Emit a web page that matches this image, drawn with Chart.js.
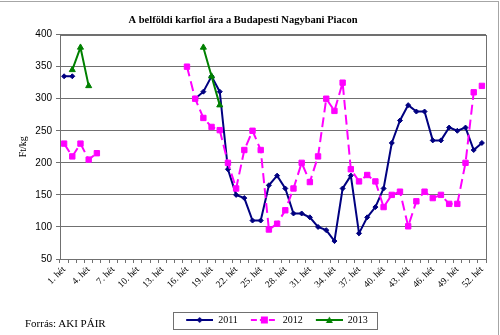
<!DOCTYPE html>
<html>
<head>
<meta charset="utf-8">
<script src="https://cdn.jsdelivr.net/npm/chart.js@4.4.0/dist/chart.umd.min.js"></script>
<style>
  html, body { margin: 0; padding: 0; background: #fff; }
  #wrap { position: relative; width: 500px; height: 335px; overflow: hidden; }
  #frame { position: absolute; left: 0; top: 1px; width: 498px; height: 340px;
           border-top: 1px solid #a6a6a6; border-right: 1px solid #a6a6a6; pointer-events: none; }
  #source { position: absolute; left: 25px; top: 317px; font: 11px "Liberation Serif", serif; color: #000; }
</style>
</head>
<body>
<div id="wrap">
  <canvas id="chartKarfiol" width="500" height="335"></canvas>
  <div id="frame"></div>
  <div id="source">Forrás: AKI PÁIR</div>
</div>

<script>
/* ===================================
   Karfiol ár - Budapesti Nagybani Piac
   =================================== */

// Weeks 1..52 (x categories)
const weekLabels = [];
for (let w = 1; w <= 52; w++) weekLabels.push(w + '. hét');

const yTicks = [50, 100, 150, 200, 250, 300, 350, 400];

// Ft/kg, null = no quotation that week
const sales2011 = [
  335, 335, null, null, null, null, null, null, null, null,
  null, null, null, null, null, null, 300, 311, 335, 311,
  190, 150, 145, 110, 110, 165, 180, 160, 121, 121,
  115, 100, 95, 78, 160, 180, 90, 115, 131, 160,
  231, 266, 290, 280, 280, 235, 235, 255, 250, 255,
  220, 231
];

const sales2012 = [
  230, 210, 230, 205, 215, null, null, null, null, null,
  null, null, null, null, null, 350, 300, 270, 256, 251,
  200, 160, 220, 250, 220, 96, 105, 126, 160, 200,
  170, 210, 300, 281, 325, 190, 171, 181, 171, 131,
  150, 155, 101, 140, 155, 145, 150, 136, 136, 200,
  310, 320
];

const sales2013 = [
  null, 345, 380, 320, null, null, null, null, null, null,
  null, null, null, null, null, null, null, 380, 335, 290,
  null, null, null, null, null, null, null, null, null, null,
  null, null, null, null, null, null, null, null, null, null,
  null, null, null, null, null, null, null, null, null, null,
  null, null
];

const NAVY = '#000080';
const MAGENTA = '#ff00ff';
const GREEN = '#008000';
const GRID = '#707070';

// legend symbol: line with marker in the middle (Excel style)
function legendIcon(color, dash, marker) {
  const c = document.createElement('canvas');
  c.width = 35;
  c.height = 10;
  const g = c.getContext('2d');
  g.strokeStyle = color;
  g.fillStyle = color;
  g.lineWidth = 2;
  g.setLineDash(dash);
  g.beginPath();
  g.moveTo(8, 5);
  g.lineTo(35, 5);
  g.stroke();
  const cx = 21.5;
  if (marker === 'diamond') {
    g.beginPath();
    g.moveTo(cx, 2); g.lineTo(cx + 3, 5); g.lineTo(cx, 8); g.lineTo(cx - 3, 5);
    g.closePath(); g.fill();
  } else if (marker === 'square') {
    g.fillRect(cx - 3.5, 1.5, 7, 7);
  } else {
    g.beginPath();
    g.moveTo(cx, 1.5); g.lineTo(cx + 3.5, 8); g.lineTo(cx - 3.5, 8);
    g.closePath(); g.fill();
  }
  return c;
}

const legendIcons = [
  legendIcon(NAVY, [], 'diamond'),
  legendIcon(MAGENTA, [6, 3], 'square'),
  legendIcon(GREEN, [], 'triangle')
];

// plot area frame + legend box
const framePlugin = {
  id: 'framePlugin',
  afterDraw(chart) {
    const ctx = chart.ctx;
    const a = chart.chartArea;
    ctx.save();
    ctx.strokeStyle = GRID;
    ctx.lineWidth = 1;
    ctx.strokeRect(Math.round(a.left) + 0.5, Math.round(a.top) + 0.5,
                   Math.round(a.right - a.left), Math.round(a.bottom - a.top));

    const boxes = chart.legend.legendHitBoxes;
    if (boxes && boxes.length) {
      const first = boxes[0];
      const last = boxes[boxes.length - 1];
      const x1 = Math.round(first.left - 5) + 0.5;
      const x2 = Math.round(last.left + last.width + 9) + 0.5;
      const y1 = Math.round(first.top - 3) + 0.5;
      const y2 = Math.round(first.top + first.height + 4) + 0.5;
      ctx.strokeRect(x1, y1, x2 - x1, y2 - y1);
    }
    ctx.restore();
  }
};

const ctx = document.getElementById('chartKarfiol').getContext('2d');

new Chart(ctx, {

  type: 'line',

  data: {
    labels: weekLabels,
    datasets: [
      {
        label: '2011',
        data: sales2011,
        borderColor: NAVY,
        backgroundColor: NAVY,
        borderWidth: 2,
        pointStyle: 'rectRot',
        pointRadius: 2.5,
        pointBorderWidth: 1,
        order: 3
      },
      {
        label: '2012',
        data: sales2012,
        borderColor: MAGENTA,
        backgroundColor: MAGENTA,
        borderWidth: 2,
        borderDash: [10, 5],
        pointStyle: 'rect',
        pointRadius: 3.8,
        pointBorderWidth: 1,
        order: 2
      },
      {
        label: '2013',
        data: sales2013,
        borderColor: GREEN,
        backgroundColor: GREEN,
        borderWidth: 2,
        pointStyle: 'triangle',
        pointRadius: 3.5,
        pointBorderWidth: 1,
        order: 1
      }
    ]
  },

  options: {
    responsive: false,
    animation: false,
    layout: {
      padding: { left: 0, right: 14, top: 0, bottom: 0 }
    },
    plugins: {
      title: {
        display: true,
        text: 'A belföldi karfiol ára a Budapesti Nagybani Piacon',
        color: '#000',
        font: { family: 'Liberation Serif', size: 10.5, weight: 'bold' },
        padding: { top: 14, bottom: 8 }
      },
      legend: {
        position: 'bottom',
        fullSize: false,
        labels: {
          usePointStyle: true,
          pointStyleWidth: 35,
          padding: 5,
          color: '#000',
          font: { family: 'Liberation Serif', size: 10 },
          generateLabels: chart =>
            Chart.defaults.plugins.legend.labels.generateLabels(chart)
              .sort((a, b) => a.datasetIndex - b.datasetIndex)
              .map(item => Object.assign(item, { pointStyle: legendIcons[item.datasetIndex] }))
        }
      },
      tooltip: { enabled: false }
    },
    scales: {
      x: {
        offset: true,
        grid: {
          offset: true,
          drawOnChartArea: false,
          tickLength: 4,
          color: GRID
        },
        border: { color: GRID },
        ticks: {
          autoSkip: false,
          maxRotation: 45,
          minRotation: 45,
          padding: 1,
          color: '#000',
          font: { family: 'Liberation Serif', size: 9.5 },
          callback: (value, index) => (index % 3 === 0 ? weekLabels[index] : '')
        },
        afterFit: scale => { scale.height = 51; }
      },
      y: {
        min: yTicks[0],
        max: yTicks[yTicks.length - 1],
        afterBuildTicks: scale => { scale.ticks = yTicks.map(v => ({ value: v })); },
        grid: {
          color: GRID,
          tickLength: 4
        },
        border: { color: GRID },
        ticks: {
          padding: 4,
          color: '#000',
          font: { family: 'Liberation Sans', size: 10 }
        },
        title: {
          display: true,
          text: 'Ft/kg',
          color: '#000',
          font: { family: 'Liberation Serif', size: 10 },
          padding: { top: 17, bottom: 0 }
        },
        afterFit: scale => { scale.width = 60; }
      }
    }
  },

  plugins: [framePlugin]

});
</script>
</body>
</html>
